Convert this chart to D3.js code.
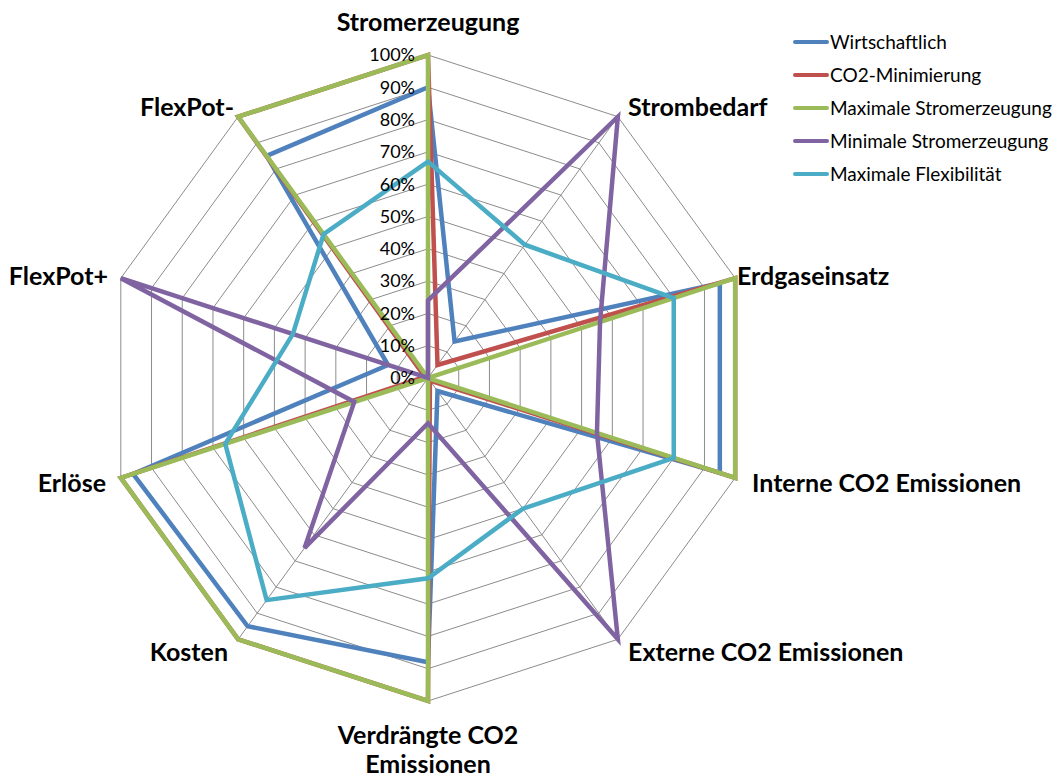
<!DOCTYPE html>
<html><head><meta charset="utf-8">
<script src="https://cdn.jsdelivr.net/npm/d3@7"></script>
<style>body{margin:0;background:#fff}svg{display:block}</style>
</head><body>
<svg id="c" width="1061" height="778"></svg>
<script>
const categories = ["Stromerzeugung","Strombedarf","Erdgaseinsatz","Interne CO2 Emissionen","Externe CO2 Emissionen","Verdrängte CO2 Emissionen","Kosten","Erlöse","FlexPot+","FlexPot-"];
const seriesNames = ["Wirtschaftlich","CO2-Minimierung","Maximale Stromerzeugung","Minimale Stromerzeugung","Maximale Flexibilität"];
const wirtschaftlich = [0.90,0.14,0.95,0.95,0.05,0.88,0.95,0.96,0.13,0.85];
const co2Minimierung = [1.00,0.05,1.00,1.00,0.01,1.00,1.00,1.00,0.01,1.00];
const maxStrom = [1.00,0.00,1.00,1.00,0.00,1.00,1.00,1.00,0.00,1.00];
const minStrom = [0.24,1.00,0.56,0.55,1.00,0.14,0.65,0.24,1.00,0.00];
const maxFlex = [0.67,0.51,0.80,0.80,0.50,0.62,0.85,0.66,0.44,0.55];
const tickLabels = ["0%","10%","20%","30%","40%","50%","60%","70%","80%","90%","100%"];
const colors = ["#4F81BD","#C0504D","#9BBB59","#8064A2","#4BACC6"];
const allSeries = [wirtschaftlich, co2Minimierung, maxStrom, minStrom, maxFlex];

const FONT = "Lato, 'Open Sans', sans-serif";
const svg = d3.select("#c");
const cx = 428, cy = 378, R = 323;
const r = d3.scaleLinear().domain([0,1]).range([0,R]);
const ang = d3.scaleLinear().domain([0,categories.length]).range([0,2*Math.PI]);
const pt = (i,v)=>[cx + r(v)*Math.sin(ang(i)), cy - r(v)*Math.cos(ang(i))];

const g = svg.append("g");
const levels = d3.range(1,11).map(d=>d/10);
levels.forEach(l=>{
  g.append("path")
   .attr("d", d3.line()(categories.map((c,i)=>pt(i,l))) + "Z")
   .attr("fill","none").attr("stroke","#8c8c8c").attr("stroke-width",1);
});
categories.forEach((c,i)=>{
  const p = pt(i,1);
  g.append("line").attr("x1",cx).attr("y1",cy).attr("x2",p[0]).attr("y2",p[1])
   .attr("stroke","#8c8c8c").attr("stroke-width",1);
});
const lineGen = d3.lineRadial().angle((d,i)=>ang(i)).radius(d=>r(d)).curve(d3.curveLinearClosed);
allSeries.forEach((s,k)=>{
  g.append("path").attr("transform",`translate(${cx},${cy})`)
   .attr("d", lineGen(s)).attr("fill","none")
   .attr("stroke",colors[k]).attr("stroke-width",4.5).attr("stroke-linejoin","miter");
});
tickLabels.forEach((t,i)=>{
  svg.append("text").attr("x",415).attr("y",cy - r(i/10)).attr("dy","0.35em")
   .attr("text-anchor","end").attr("font-family",FONT)
   .attr("font-size",18).attr("fill","#000").text(t);
});
const labelPos = [
  {x:428,y:22,a:"middle"},
  {x:628,y:107,a:"start"},
  {x:737,y:276,a:"start"},
  {x:752,y:483,a:"start"},
  {x:628,y:652,a:"start"},
  {x:428,y:735,a:"middle"},
  {x:228,y:652,a:"end"},
  {x:106,y:483,a:"end"},
  {x:108,y:276,a:"end"},
  {x:234,y:107,a:"end"}
];
categories.forEach((c,i)=>{
  const lp = labelPos[i];
  const t = svg.append("text").attr("x",lp.x).attr("y",lp.y).attr("dy","0.35em")
    .attr("text-anchor",lp.a).attr("font-family",FONT)
    .attr("font-weight","bold").attr("font-size",25).attr("fill","#000");
  if(c==="Verdrängte CO2 Emissionen"){
    t.append("tspan").attr("x",lp.x).text("Verdrängte CO2");
    t.append("tspan").attr("x",lp.x).attr("dy",29).text("Emissionen");
  } else t.text(c);
});
seriesNames.forEach((n,k)=>{
  const y = 42 + k*33;
  svg.append("line").attr("x1",795).attr("x2",827).attr("y1",y).attr("y2",y)
    .attr("stroke",colors[k]).attr("stroke-width",4).attr("stroke-linecap","round");
  svg.append("text").attr("x",830).attr("y",y).attr("dy","0.35em")
    .attr("font-family",FONT).attr("font-size",19).attr("fill","#000").text(n);
});
</script>
</body></html>
